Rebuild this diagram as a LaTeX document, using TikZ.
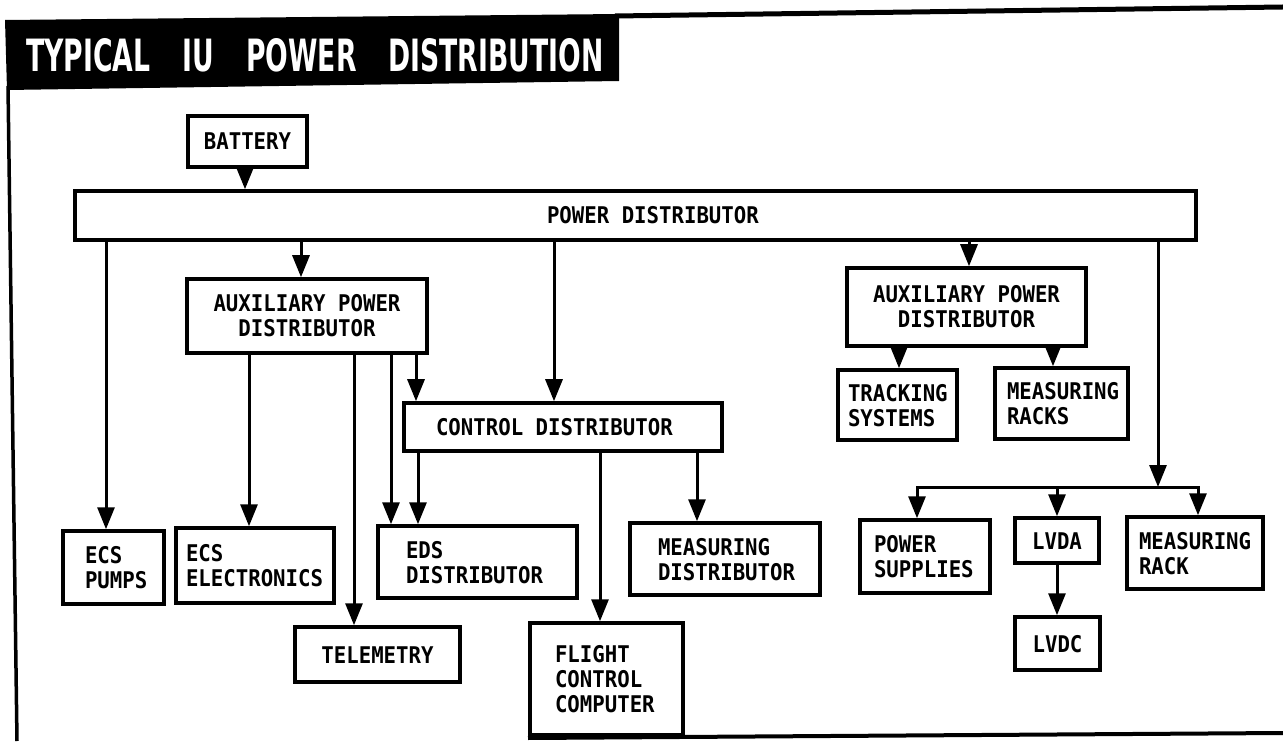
\documentclass[tikz,border=0pt]{standalone}
\usepackage{fontspec}
\usepackage{graphicx}
\usetikzlibrary{arrows.meta}
\newfontfamily\lblfont[FakeStretch=0.9]{DejaVu Sans Mono}
\newfontfamily\ttlfont{DejaVu Sans}
% centred box: name x1 y1 x2 y2 text
\newcommand\cbox[6]{%
  \pgfmathsetmacro\myBW{#4-#2}\pgfmathsetmacro\myBH{#5-#3}%
  \pgfmathsetmacro\myCX{(#2+#4)/2}\pgfmathsetmacro\myCY{(#3+#5)/2}%
  \node[box,minimum width=\myBW pt,minimum height=\myBH pt] (#1) at (\myCX,\myCY)
    {\raisebox{-3.5pt}[\height][\depth]{\begin{tabular}{@{}c@{}}#6\end{tabular}}};}
% left-aligned box: name x1 y1 x2 y2 pad text
\newcommand\lbox[7]{%
  \pgfmathsetmacro\myBW{#4-#2}\pgfmathsetmacro\myBH{#5-#3}%
  \pgfmathsetmacro\myCX{(#2+#4)/2}\pgfmathsetmacro\myCY{(#3+#5)/2}%
  \node[box,minimum width=\myBW pt,minimum height=\myBH pt] (#1) at (\myCX,\myCY)
    {\makebox[\myBW pt][l]{\hspace*{#6pt}\raisebox{-3.5pt}[\height][\depth]{\begin{tabular}{@{}l@{}}#7\end{tabular}}}};}
% vertical connector: from node, to node, x
\newcommand\vcon[3]{\coordinate (vx) at (#3,0);
  \draw[arr] (#1.south -| vx) -- (#2.north -| vx);}
\begin{document}
\begin{tikzpicture}[x=1pt,y=-1pt,
  box/.style={draw,line width=3.5pt,inner sep=0pt,fill=white,
    font=\lblfont\bfseries\fontsize{23}{25}\selectfont},
  arr/.style={line width=3pt,-{Triangle[width=17pt,length=22pt]}},
  ln/.style={line width=3pt,line cap=rect}]
\useasboundingbox (0,0) rectangle (1283,743);
% title bar and frame
\fill[black] (5,20) -- (619,14) -- (619,81) -- (7,90) -- cycle;
\node[text=white,font=\ttlfont\bfseries,inner sep=0pt] (title) at (315,55)
  {\resizebox{577pt}{33pt}{TYPICAL\hspace{12pt}IU\hspace{12pt}POWER\hspace{12pt}DISTRIBUTION}};
\draw[line width=5pt] (615,16) -- (1283,7);
\draw[line width=3.5pt] (8,86) -- (17,741);
\draw[line width=4pt] (528,738) -- (1283,733);
% boxes
\cbox{battery}{188}{116}{307}{167}{BATTERY}
\lbox{pd}{75}{191}{1196}{240}{472}{POWER DISTRIBUTOR}
\cbox{aux1}{187}{279}{427}{353}{AUXILIARY POWER\\DISTRIBUTOR}
\lbox{ctrl}{404}{403}{722}{451}{32}{CONTROL DISTRIBUTOR}
\lbox{ecsp}{63}{531}{164}{604}{22}{ECS\\PUMPS}
\lbox{ecse}{176}{528}{334}{603}{10}{ECS\\ELECTRONICS}
\lbox{eds}{378}{526}{577}{598}{28}{EDS\\DISTRIBUTOR}
\cbox{tel}{295}{627}{460}{682}{TELEMETRY}
\lbox{fcc}{530}{623}{683}{735}{25}{FLIGHT\\CONTROL\\COMPUTER}
\lbox{md}{630}{523}{820}{595}{28}{MEASURING\\DISTRIBUTOR}
\cbox{aux2}{847}{268}{1086}{346}{AUXILIARY POWER\\DISTRIBUTOR}
\lbox{trk}{838}{370}{957}{440}{10}{TRACKING\\SYSTEMS}
\lbox{mrs}{995}{368}{1128}{439}{12}{MEASURING\\RACKS}
\lbox{ps}{860}{520}{990}{593}{14}{POWER\\SUPPLIES}
\cbox{lvda}{1015}{518}{1099}{563}{LVDA}
\cbox{lvdc}{1015}{617}{1100}{670}{LVDC}
\lbox{mr}{1127}{517}{1263}{589}{12}{MEASURING\\RACK}
% connectors
\vcon{battery}{pd}{245}
\vcon{pd}{ecsp}{106}
\vcon{pd}{aux1}{301}
\vcon{pd}{ctrl}{554}
\vcon{pd}{aux2}{969}
\vcon{aux1}{ecse}{249}
\vcon{aux1}{tel}{354}
\vcon{aux1}{eds}{391}
\vcon{aux1}{ctrl}{416}
\vcon{ctrl}{eds}{418}
\vcon{ctrl}{fcc}{600}
\vcon{ctrl}{md}{697}
\vcon{aux2}{trk}{899}
\vcon{aux2}{mrs}{1053}
\vcon{lvda}{lvdc}{1057}
% bus to right-hand group
\coordinate (busM) at (1158,487);
\coordinate (busL) at (917,487);
\coordinate (busR) at (1198,487);
\coordinate (busC) at (1057,487);
\draw[arr] (pd.south -| busM) -- (busM);
\draw[ln] (busL) -- (busR);
\draw[arr] (busL) -- (busL |- ps.north);
\draw[arr] (busC) -- (busC |- lvda.north);
\draw[arr] (busR) -- (busR |- mr.north);
\end{tikzpicture}
\end{document}
